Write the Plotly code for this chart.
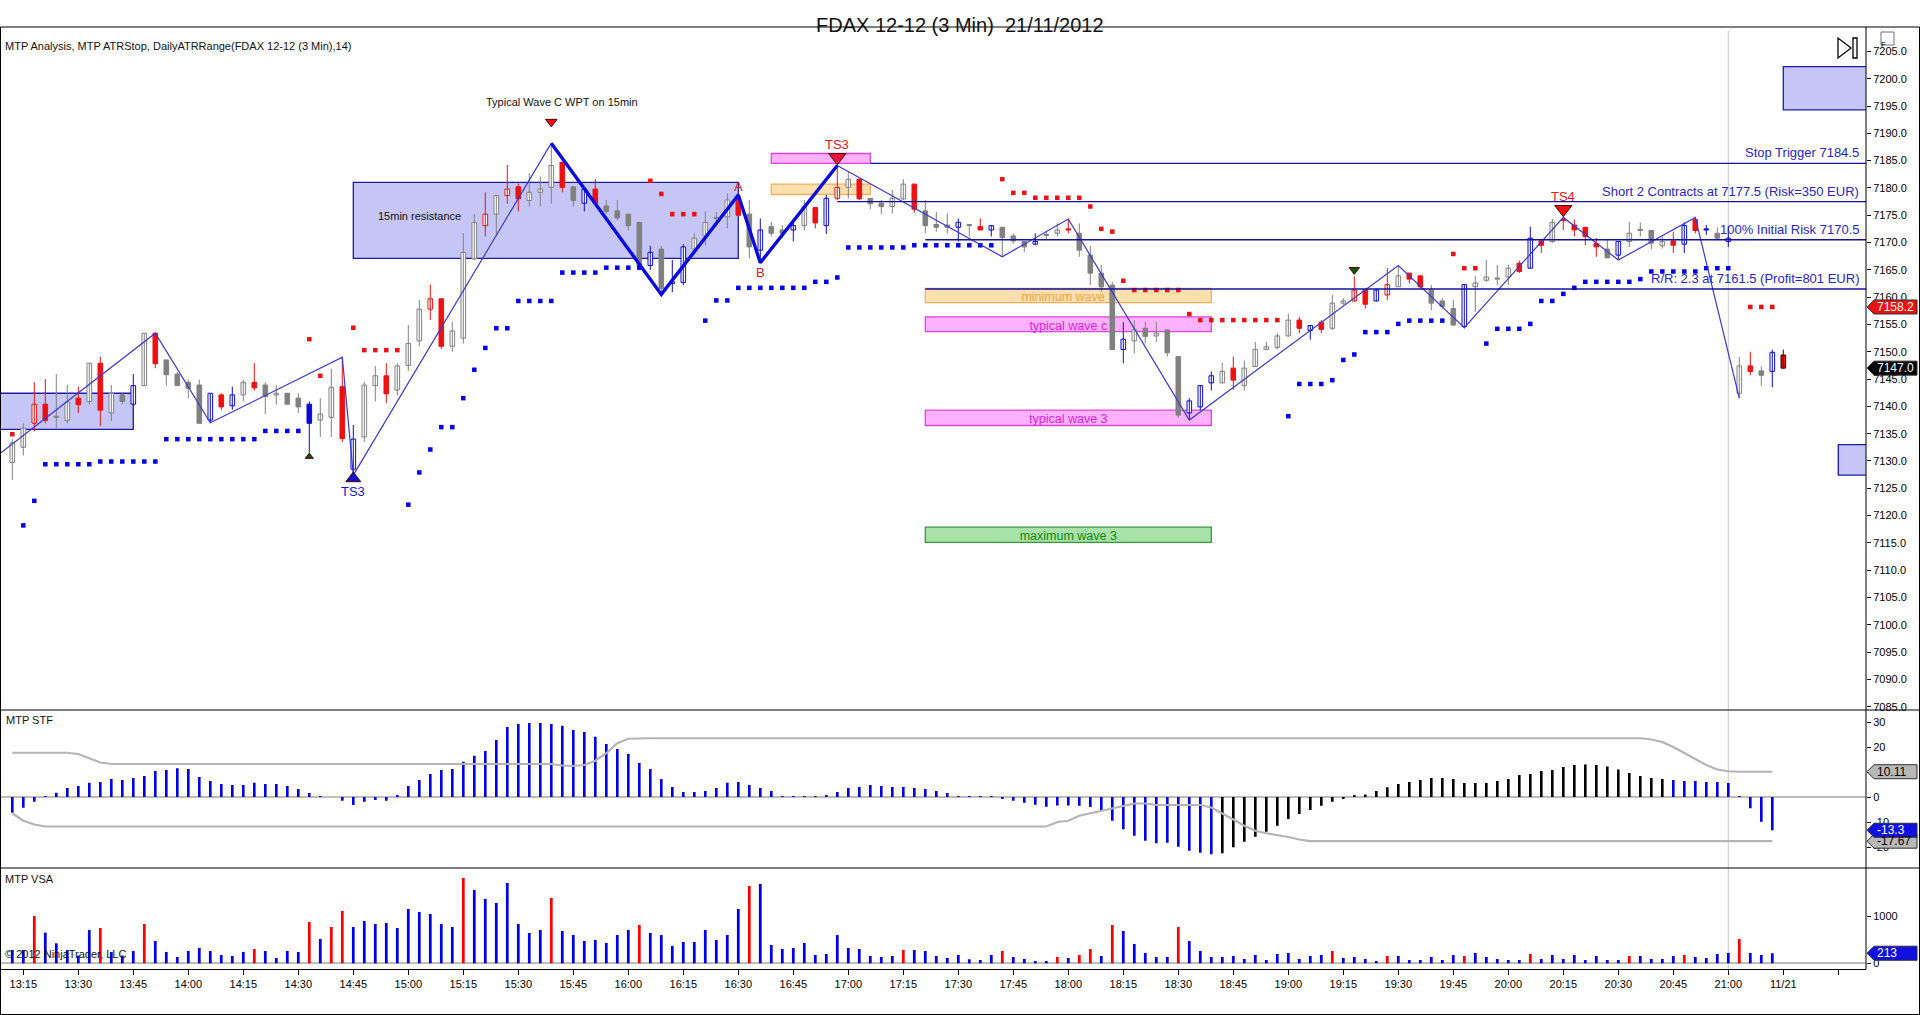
import plotly.graph_objects as go
from plotly.subplots import make_subplots

W, H = 1920, 1015
AXIS_X = 1866          # pixel column of the right-hand price axis
FONT = "Liberation Sans, Arial, sans-serif"

# ---------------- FDAX 12-12, 3 min bars, bar 0 closes at 13:15 ----------------
FIRST_BAR = -1
OPEN = [
    7129.7, 7132.5, 7136.9, 7140.4, 7138.0, 7137.4, 7141.5, 7140.9, 7147.9, 7138.8,
    7142.1, 7140.4, 7143.8, 7153.4, 7148.5, 7145.9, 7144.4, 7143.9, 7137.5, 7142.1,
    7140.1, 7142.1, 7144.4, 7143.9, 7142.1, 7142.4, 7141.5, 7140.4, 7137.5, 7138.0,
    7143.6, 7128.5, 7134.4, 7143.8, 7145.6, 7143.0, 7147.5, 7152.0, 7157.8, 7159.7,
    7151.0, 7152.5, 7167.0, 7173.1, 7175.2, 7178.6, 7180.2, 7177.7, 7179.2, 7180.1,
    7184.7, 7180.2, 7177.2, 7179.8, 7176.7, 7175.8, 7175.2, 7173.7, 7165.8, 7168.8,
    7162.5, 7162.7, 7168.8, 7171.2, 7174.4, 7174.7, 7177.8, 7175.2, 7168.6, 7172.9,
    7172.3, 7172.3, 7173.1, 7176.4, 7173.1, 7178.1, 7180.1, 7181.6, 7178.1, 7177.2,
    7176.6, 7178.0, 7180.7, 7175.8, 7173.3, 7173.2, 7172.8, 7173.1, 7172.9, 7172.3,
    7172.8, 7171.2, 7170.2, 7169.7, 7171.3, 7171.7, 7172.3, 7171.7, 7167.7, 7164.4,
    7162.2, 7150.4, 7152.0, 7154.3, 7152.9, 7154.0, 7149.1, 7138.8, 7139.9, 7144.3,
    7144.3, 7147.0, 7143.8, 7147.3, 7150.4, 7150.8, 7152.9, 7155.8, 7153.9, 7155.4,
    7154.3, 7158.9, 7159.3, 7161.3, 7159.3, 7160.4, 7161.9, 7164.4, 7163.9, 7161.3,
    7159.3, 7157.9, 7154.6, 7161.9, 7163.1, 7163.3, 7163.7, 7166.2, 7165.3, 7170.3,
    7170.2, 7174.0, 7173.2, 7172.8, 7169.8, 7168.8, 7167.7, 7170.2, 7172.2, 7172.2,
    7169.4, 7170.3, 7169.7, 7174.2, 7172.3, 7171.7, 7170.2, 7142.4, 7147.4, 7146.5,
    7146.4, 7149.4,
]
HIGH = [
    7134.0, 7136.9, 7144.4, 7145.0, 7145.9, 7143.9, 7143.6, 7147.9, 7149.1, 7143.9,
    7142.4, 7145.9, 7153.4, 7153.4, 7148.5, 7146.3, 7144.9, 7144.9, 7142.4, 7142.4,
    7143.6, 7144.9, 7147.9, 7144.4, 7143.9, 7142.4, 7142.4, 7140.9, 7141.5, 7146.9,
    7149.0, 7136.6, 7144.5, 7147.4, 7147.9, 7147.9, 7154.9, 7159.5, 7162.3, 7159.7,
    7155.5, 7171.7, 7175.2, 7179.2, 7178.6, 7184.2, 7180.8, 7182.7, 7182.1, 7188.2,
    7184.7, 7180.2, 7179.8, 7181.6, 7177.8, 7177.8, 7175.2, 7173.7, 7169.4, 7169.4,
    7166.8, 7169.7, 7171.7, 7175.7, 7175.6, 7179.0, 7178.7, 7177.8, 7174.4, 7173.8,
    7173.2, 7174.4, 7177.8, 7176.4, 7178.7, 7184.1, 7183.0, 7181.6, 7178.1, 7177.8,
    7179.6, 7181.6, 7180.7, 7177.8, 7175.6, 7175.3, 7174.4, 7173.1, 7174.4, 7173.1,
    7172.8, 7171.7, 7170.2, 7171.7, 7172.0, 7173.5, 7174.3, 7173.5, 7169.4, 7165.9,
    7162.8, 7155.4, 7155.8, 7155.5, 7155.5, 7154.0, 7149.1, 7141.5, 7143.8, 7146.4,
    7148.0, 7149.1, 7148.4, 7151.8, 7151.8, 7153.4, 7157.0, 7156.4, 7154.9, 7155.8,
    7160.4, 7159.8, 7163.8, 7161.3, 7161.6, 7165.3, 7165.7, 7164.4, 7163.9, 7162.2,
    7159.8, 7159.5, 7162.3, 7163.9, 7166.8, 7165.9, 7165.9, 7166.7, 7172.9, 7170.3,
    7174.3, 7174.7, 7174.2, 7172.8, 7170.8, 7170.6, 7170.2, 7173.8, 7173.7, 7172.2,
    7171.1, 7172.0, 7173.7, 7174.6, 7173.2, 7172.8, 7173.0, 7149.1, 7150.0, 7147.3,
    7150.4, 7150.4,
]
LOW = [
    7126.5, 7131.0, 7135.4, 7136.9, 7136.0, 7136.9, 7138.8, 7140.4, 7136.4, 7137.3,
    7140.4, 7140.4, 7143.8, 7147.0, 7143.8, 7143.8, 7141.5, 7136.9, 7137.0, 7139.4,
    7139.4, 7140.9, 7142.9, 7138.6, 7140.3, 7140.4, 7138.8, 7131.5, 7134.4, 7134.4,
    7133.5, 7127.4, 7133.5, 7140.9, 7140.6, 7142.0, 7146.5, 7151.0, 7155.8, 7150.5,
    7150.0, 7151.5, 7166.8, 7171.1, 7171.4, 7177.1, 7175.7, 7176.6, 7176.6, 7177.1,
    7179.2, 7176.6, 7175.7, 7177.1, 7175.3, 7174.1, 7172.2, 7165.6, 7165.0, 7160.5,
    7160.9, 7162.2, 7168.6, 7169.5, 7172.9, 7172.6, 7175.0, 7167.1, 7166.3, 7171.1,
    7170.8, 7170.2, 7172.2, 7172.6, 7171.6, 7177.8, 7178.1, 7177.8, 7176.1, 7175.2,
    7175.3, 7177.8, 7175.5, 7171.7, 7172.0, 7171.7, 7170.2, 7171.1, 7172.3, 7171.1,
    7167.4, 7169.8, 7168.3, 7169.5, 7170.5, 7171.1, 7171.7, 7167.4, 7162.2, 7161.0,
    7150.4, 7147.9, 7149.7, 7151.5, 7151.8, 7149.1, 7137.8, 7137.5, 7139.3, 7142.9,
    7144.2, 7143.0, 7142.9, 7147.3, 7150.3, 7150.4, 7152.8, 7153.4, 7152.2, 7153.4,
    7154.0, 7158.6, 7159.2, 7157.9, 7159.2, 7159.5, 7161.9, 7162.5, 7161.6, 7157.6,
    7157.9, 7154.7, 7154.3, 7157.3, 7162.8, 7162.2, 7162.2, 7164.4, 7165.3, 7168.1,
    7169.9, 7172.3, 7171.1, 7169.5, 7167.4, 7167.2, 7166.8, 7169.2, 7171.1, 7168.8,
    7168.9, 7168.1, 7168.1, 7171.7, 7171.4, 7170.5, 7169.2, 7141.5, 7145.7, 7143.7,
    7143.5, 7146.9,
]
CLOSE = [
    7133.3, 7136.0, 7140.4, 7137.4, 7138.0, 7140.8, 7140.3, 7147.9, 7139.3, 7142.4,
    7140.9, 7143.8, 7153.4, 7147.8, 7145.8, 7143.8, 7143.3, 7136.9, 7142.4, 7139.9,
    7142.1, 7144.4, 7143.4, 7141.8, 7142.4, 7140.4, 7139.9, 7136.9, 7138.6, 7143.5,
    7134.1, 7134.0, 7143.9, 7145.6, 7142.3, 7147.4, 7151.5, 7157.8, 7159.7, 7151.0,
    7153.8, 7168.2, 7173.7, 7175.2, 7178.6, 7179.8, 7178.0, 7179.2, 7179.8, 7184.1,
    7180.1, 7177.7, 7179.8, 7177.2, 7175.7, 7174.5, 7173.1, 7165.6, 7168.2, 7161.6,
    7162.8, 7169.2, 7170.8, 7173.7, 7174.4, 7177.8, 7175.0, 7169.2, 7172.3, 7171.7,
    7171.7, 7173.1, 7176.6, 7173.6, 7178.1, 7180.1, 7181.6, 7178.0, 7177.1, 7176.6,
    7178.1, 7180.7, 7176.1, 7173.1, 7172.8, 7172.8, 7173.7, 7173.1, 7172.3, 7173.1,
    7170.9, 7170.3, 7169.2, 7170.2, 7171.3, 7172.3, 7172.3, 7168.6, 7164.4, 7161.9,
    7150.4, 7152.3, 7154.0, 7152.8, 7153.4, 7149.8, 7138.4, 7141.0, 7143.8, 7145.6,
    7146.4, 7144.8, 7147.0, 7150.4, 7150.9, 7152.9, 7155.8, 7154.3, 7154.8, 7154.1,
    7158.9, 7159.3, 7161.3, 7158.7, 7161.3, 7162.3, 7163.9, 7163.3, 7161.9, 7158.9,
    7158.3, 7154.9, 7162.3, 7162.6, 7163.7, 7163.3, 7165.3, 7164.7, 7170.8, 7169.5,
    7173.7, 7174.0, 7172.3, 7171.1, 7169.2, 7167.2, 7170.2, 7171.7, 7172.2, 7169.9,
    7170.2, 7169.5, 7173.1, 7172.2, 7172.3, 7170.8, 7170.8, 7147.4, 7146.4, 7145.7,
    7149.9, 7147.0,
]
# MTP Analysis bar colouring: g gray, r red, b blue, d red with dark edge (bar in progress)
TONE = list(
    "ggrrggrgrg" "gbgrggggbr" "bgrggggbgg" "rbggrgggrr" "gggrgrrggg" "rgbrggggbg"
    "bbggggrgbg" "gbgrbrgrgg" "ggrgggbgrb" "gggbggrggg" "gbgggggbbb" "grgggggrbr"
    "ggrrbrgrrg" "ggbggggrbr" "grrrrgbggg" "grbrbgbgrg" "bd"
)
BARS = list(range(FIRST_BAR, FIRST_BAR + len(OPEN)))

# MTP ATRStop: runs of (first bar, last bar, stop level)
STOP_BLUE_RUNS = [
    (0, 0, 7118.2), (1, 1, 7122.7), (2, 6, 7129.4), (7, 12, 7129.9), (13, 21, 7134.0),
    (22, 25, 7135.5), (35, 35, 7122.0), (36, 36, 7127.9), (37, 37, 7132.1), (38, 39, 7136.2),
    (40, 40, 7141.5), (41, 41, 7146.7), (42, 42, 7150.7), (43, 44, 7154.3), (45, 48, 7159.3),
    (49, 52, 7164.5), (53, 56, 7165.4), (62, 62, 7155.7), (63, 64, 7159.4), (65, 71, 7161.7),
    (72, 73, 7162.8), (74, 74, 7163.6), (75, 80, 7169.1), (81, 88, 7169.5), (115, 115, 7138.2),
    (116, 118, 7144.1), (119, 119, 7144.8), (120, 120, 7148.5), (121, 121, 7149.5),
    (122, 124, 7153.6), (125, 125, 7155.1), (126, 129, 7155.7), (133, 133, 7151.5),
    (134, 136, 7154.2), (137, 137, 7155.1), (138, 139, 7159.3), (140, 140, 7160.6),
    (141, 141, 7161.7), (142, 146, 7162.8), (147, 147, 7163.3), (148, 152, 7164.7),
    (153, 155, 7165.3),
]
STOP_RED_RUNS = [
    (-1, -1, 7134.9), (26, 26, 7152.3), (27, 27, 7145.6), (30, 30, 7154.4), (31, 34, 7150.3),
    (57, 57, 7181.3), (58, 58, 7178.9), (59, 61, 7175.2), (89, 89, 7181.6), (90, 91, 7179.1),
    (92, 96, 7178.2), (97, 97, 7176.6), (98, 98, 7172.5), (99, 99, 7172.0), (100, 100, 7163.0),
    (101, 105, 7161.3), (106, 106, 7156.9), (107, 114, 7155.8), (130, 130, 7167.9),
    (131, 132, 7165.3), (157, 159, 7158.2),
]

# swing lines
ZIG_BARS = [-3, 12, 17, 29, 30, 48]
ZIG_PRICES = [7130.0, 7153.4, 7137.0, 7149.0, 7127.4, 7188.2]
WAVE_BARS = [48, 58, 65, 67, 74]
WAVE_PRICES = [7188.2, 7160.5, 7178.7, 7166.3, 7184.1]
ZIG2_BARS = [74, 89, 95, 106, 125, 131, 140, 145, 152, 156]
ZIG2_PRICES = [7184.1, 7167.4, 7174.3, 7137.5, 7165.8, 7154.4, 7174.6, 7166.8, 7174.6, 7141.5]

# trade levels
LEVELS = [7184.5, 7177.5, 7170.5, 7161.5]
LEVEL_FROM = [77, 74, 82, 82]
LEVEL_TEXT = [
    "Stop Trigger 7184.5",
    "Short 2 Contracts at 7177.5 (Risk=350 EUR)",
    "100% Initial Risk 7170.5",
    "R/R: 2.3 at 7161.5 (Profit=801 EUR)",
]

# zones: bar span, price span, caption, kind
ZONE_FROM = [-3, 30, 68, 68, 82, 82, 82, 82, 160, 165]
ZONE_TO = [10, 65, 77, 77, 108, 108, 108, 108, 168, 168]
ZONE_LOW = [7135.8, 7167.1, 7184.5, 7178.8, 7159.0, 7153.7, 7136.5, 7115.1, 7194.3, 7127.4]
ZONE_HIGH = [7142.4, 7181.0, 7186.3, 7180.7, 7161.6, 7156.4, 7139.3, 7117.9, 7202.2, 7133.0]
ZONE_TEXT = ["", "", "", "", "minimum wave 3", "typical wave c", "typical wave 3",
             "maximum wave 3", "", ""]
ZONE_KIND = ["blue", "blue", "pink", "orange", "orange", "pink", "pink", "green", "blue", "blue"]

# MTP STF oscillator, bars -1 .. 159
STF = [
    -6.3, -4.3, -1.9, 0.3, 1.7, 3.6, 4.4, 5.7, 6.0, 7.2,
    6.8, 7.6, 8.4, 10.4, 10.8, 11.5, 11.2, 8.0, 6.4, 5.2,
    4.8, 4.8, 5.7, 5.2, 5.2, 4.4, 3.2, 1.6, 0.2, 0.0,
    -1.5, -3.2, -1.9, -1.2, -1.5, 0.8, 4.4, 6.8, 9.2, 10.8,
    11.2, 14.1, 16.5, 18.4, 22.8, 28.0, 29.2, 29.6, 29.6, 29.2,
    28.5, 26.8, 26.0, 24.1, 21.2, 19.2, 17.2, 13.6, 11.2, 7.2,
    4.0, 2.0, 2.0, 2.4, 3.6, 5.7, 6.0, 4.8, 3.6, 2.4,
    0.3, 0.3, 0.3, 0.1, 0.8, 2.0, 3.6, 4.0, 4.8, 4.4,
    4.0, 4.0, 3.6, 3.2, 2.4, 1.6, 0.4, 0.1, 0.1, 0.1,
    -0.5, -1.5, -2.3, -3.1, -3.9, -3.4, -3.4, -3.5, -4.0, -5.5,
    -9.5, -12.9, -15.5, -17.5, -18.5, -18.3, -19.9, -21.5, -22.3, -22.9,
    -22.5, -20.1, -17.9, -15.9, -13.9, -11.5, -8.8, -6.8, -5.2, -3.5,
    -1.9, -0.5, 0.5, 1.0, 2.4, 3.9, 5.2, 6.0, 6.8, 7.6,
    7.6, 7.2, 5.6, 5.6, 5.6, 6.4, 7.2, 8.8, 9.2, 10.4,
    10.8, 12.0, 12.8, 13.0, 12.8, 12.2, 11.0, 9.6, 8.4, 7.6,
    7.2, 6.8, 6.4, 6.4, 6.0, 6.0, 5.6, 0.4, -4.5, -9.9,
    -13.3,
]
STF_TONE = "b" * 110 + "k" * 41 + "b" * 10
STF_UPPER = ([17.7] * 6 + [17.2, 15.5, 13.8] + [13.2] * 41
             + [12.6, 12.4, 12.8, 14.5, 17.5, 21.5, 23.3] + [23.5] * 92
             + [23.0, 22.0, 20.0, 17.5, 15.0, 12.8, 11.0, 10.3] + [10.11] * 4)
STF_LOWER = ([-6.5, -9.5, -11.0] + [-11.8] * 92
             + [-10.0, -9.5, -7.5, -6.5, -5.8, -4.5, -3.5, -2.6, -2.6] + [-3.2] * 5
             + [-4.2, -6.5, -9.0, -11.5, -13.5, -14.5, -15.2, -16.0, -17.0] + [-17.67] * 43)
STF_TICKS = [-20, -10, 0, 10, 20, 30]
STF_TICK_TEXT = ["-20", "-10", "0", "", "20", "30"]   # the 10 sits under the 10.11 flag

# MTP VSA volume, bars -1 .. 159
VSA = [
    282, 282, 1001, 649, 423, 282, 162, 705, 747, 240,
    162, 261, 832, 472, 240, 134, 261, 324, 261, 176,
    155, 240, 303, 261, 113, 261, 240, 874, 515, 768,
    1107, 768, 895, 832, 853, 747, 1149, 1086, 1043, 832,
    768, 1805, 1551, 1361, 1276, 1699, 832, 642, 705, 1382,
    684, 599, 472, 494, 430, 599, 705, 811, 642, 599,
    367, 451, 451, 705, 494, 599, 1149, 1636, 1678, 388,
    303, 324, 430, 176, 197, 599, 324, 303, 155, 134,
    155, 282, 282, 261, 155, 113, 176, 85, 70, 176,
    261, 134, 92, 49, 49, 134, 113, 176, 303, 155,
    811, 684, 409, 219, 134, 134, 768, 472, 261, 134,
    134, 155, 92, 176, 70, 197, 219, 92, 155, 176,
    261, 113, 134, 92, 49, 155, 155, 70, 70, 134,
    70, 176, 155, 219, 134, 92, 70, 70, 197, 92,
    176, 92, 176, 70, 155, 70, 70, 155, 155, 92,
    92, 155, 176, 134, 113, 197, 219, 515, 219, 176,
    213,
]
VSA_TONE = ("bbrbbbbbrb" "bbrbbbbbbb" "bbrbbbbrbr" "rbbbbbbbbb" "brbbbbbbbr" "bbbbbbbrbb"
            "bbbbbbbrbb" "bbbbbbbbbb" "brbbbbbbbb" "rbbbbrbrrb" "rbbbbbrbbb" "bbbbbbbbbb"
            "rbbbbrbbbb" "bbrbbbbbrb" "bbbbbbbrbb" "bbrbbbbrbb" "b")

TIME_TICKS = ["13:15", "13:30", "13:45", "14:00", "14:15", "14:30", "14:45", "15:00",
              "15:15", "15:30", "15:45", "16:00", "16:15", "16:30", "16:45", "17:00",
              "17:15", "17:30", "17:45", "18:00", "18:15", "18:30", "18:45", "19:00",
              "19:15", "19:30", "19:45", "20:00", "20:15", "20:30", "20:45", "21:00",
              "11/21", ""]

# ---------------- geometry (pixel layout of the NinjaTrader window) ----------------
BAR_PX = 11.0
X0_PX = 23.3
X_MIN = -X0_PX / BAR_PX
X_MAX = (AXIS_X - X0_PX) / BAR_PX
PRICE_PX = 5.461      # pixels per index point


def px(x):
    return x / W


def py(y):
    return 1 - y / H


BLUE = "#0000ee"
RED = "#ee1111"
GRAY = "#808080"

fig = make_subplots(rows=3, cols=1, shared_xaxes=True, vertical_spacing=0)

# zones go under the bars
zone_style = {
    "blue": ("#c6c6f6", "#1c1ca8", "#1c1ca8"),
    "pink": ("#ffb2ff", "#dd44dd", "#dd22dd"),
    "orange": ("#ffdfae", "#f0b060", "#eea540"),
    "green": ("#a8e2a8", "#3a9a3a", "#118811"),
}
for a, b, lo, hi, txt, kind in zip(ZONE_FROM, ZONE_TO, ZONE_LOW, ZONE_HIGH, ZONE_TEXT, ZONE_KIND):
    fill, edge, tcol = zone_style[kind]
    shp = dict(type="rect", xref="x", yref="y", x0=a, x1=b, y0=lo, y1=hi,
               fillcolor=fill, line=dict(color=edge, width=1.3), layer="below")
    if txt:
        shp["label"] = dict(text=txt, textposition="middle center",
                            font=dict(size=12.5, color=tcol, family=FONT))
    fig.add_shape(**shp)

# 21:00 session marker
fig.add_shape(type="line", xref="x", yref="paper", x0=155, x1=155, y0=py(969), y1=py(31),
              line=dict(color="#c8c8c8", width=1), layer="below")

# candles: wicks then bodies, one group per colour
tone_style = {"g": (GRAY, GRAY), "r": (RED, RED), "b": ("#0a0ad4", "#0a0ad4"), "d": (RED, "#3a0000")}
for tone, (fill, edge) in tone_style.items():
    idx = [i for i, t in enumerate(TONE) if t == tone]
    wx, wy = [], []
    for i in idx:
        wx += [BARS[i], BARS[i], None]
        wy += [LOW[i], HIGH[i], None]
    fig.add_trace(go.Scatter(x=wx, y=wy, mode="lines", line=dict(color=edge, width=1),
                             hoverinfo="skip"), row=1, col=1)
    for hollow in (True, False):
        sel = [i for i in idx if (CLOSE[i] > OPEN[i]) == hollow]
        if not sel:
            continue
        fig.add_trace(go.Bar(
            x=[BARS[i] for i in sel],
            y=[max(abs(CLOSE[i] - OPEN[i]), 0.2) for i in sel],
            base=[min(OPEN[i], CLOSE[i]) for i in sel],
            width=0.42,
            marker=dict(color="white" if hollow else fill, line=dict(color=edge, width=1)),
            hoverinfo="skip"), row=1, col=1)


def run_points(runs):
    xs, ys = [], []
    for a, b, v in runs:
        for n in range(a, b + 1):
            xs.append(n)
            ys.append(v)
    return xs, ys


for runs, col in ((STOP_BLUE_RUNS, BLUE), (STOP_RED_RUNS, RED)):
    sx, sy = run_points(runs)
    fig.add_trace(go.Scatter(x=sx, y=sy, mode="markers",
                             marker=dict(symbol="square", size=4.5, color=col, line=dict(width=0)),
                             hoverinfo="skip"), row=1, col=1)

# swing lines
for xs, ys, wdt, col in ((ZIG_BARS, ZIG_PRICES, 1.2, "#3a3ad0"),
                         (ZIG2_BARS, ZIG2_PRICES, 1.2, "#3a3ad0"),
                         (WAVE_BARS, WAVE_PRICES, 3.4, "#0a0ae0")):
    fig.add_trace(go.Scatter(x=xs, y=ys, mode="lines", line=dict(color=col, width=wdt),
                             hoverinfo="skip"), row=1, col=1)

# trade levels
for lvl, start, txt in zip(LEVELS, LEVEL_FROM, LEVEL_TEXT):
    fig.add_trace(go.Scatter(x=[start, X_MAX], y=[lvl, lvl], mode="lines",
                             line=dict(color="#12129a", width=1.4), hoverinfo="skip"), row=1, col=1)
    fig.add_annotation(xref="paper", yref="y", x=px(AXIS_X - 5), y=lvl, text=txt,
                       showarrow=False, xanchor="right", yanchor="bottom", yshift=1,
                       font=dict(size=13, color="#2626c4", family=FONT))

# signal markers
MARK_BARS = [48, 74, 140, 30, 121, 26]
MARK_PRICES = [7192.1, 7185.6, 7176.1, 7126.8, 7165.0, 7130.8]
MARK_SYMBOL = ["triangle-down", "triangle-down", "triangle-down", "triangle-up", "triangle-down", "triangle-up"]
MARK_SIZE = [10, 15, 15, 13, 9, 7]
MARK_FILL = [RED, "#e8163c", RED, "#1010d0", "#0a5a0a", "#0a5a0a"]
for n, p, s, z, c in zip(MARK_BARS, MARK_PRICES, MARK_SYMBOL, MARK_SIZE, MARK_FILL):
    fig.add_trace(go.Scatter(x=[n], y=[p], mode="markers",
                             marker=dict(symbol=s, size=z, color=c, line=dict(color="#500000", width=1)),
                             hoverinfo="skip"), row=1, col=1)

LABEL_BARS = [74, 65, 67, 140, 30]
LABEL_PRICES = [7188.0, 7180.3, 7164.6, 7178.4, 7124.5]
LABEL_TEXT = ["TS3", "A", "B", "TS4", "TS3"]
LABEL_COL = ["#e01818", "#e01818", "#e01818", "#e01818", "#1818c8"]
for n, p, t, c in zip(LABEL_BARS, LABEL_PRICES, LABEL_TEXT, LABEL_COL):
    fig.add_annotation(x=n, y=p, xref="x", yref="y", text=t, showarrow=False,
                       font=dict(size=13, color=c, family=FONT))

fig.add_annotation(x=49, y=7195.7, xref="x", yref="y", text="Typical Wave C WPT on 15min",
                   showarrow=False, font=dict(size=11, color="#111111", family=FONT))
fig.add_annotation(x=36, y=7174.8, xref="x", yref="y", text="15min resistance",
                   showarrow=False, font=dict(size=11, color="#111111", family=FONT))

# ---------------- MTP STF ----------------
IND_BARS = BARS[:len(STF)]
fig.add_trace(go.Bar(x=IND_BARS, y=STF, width=0.24,
                     marker=dict(color=[BLUE if t == "b" else "#000000" for t in STF_TONE], line=dict(width=0)),
                     hoverinfo="skip"), row=2, col=1)
for band in (STF_UPPER, STF_LOWER):
    fig.add_trace(go.Scatter(x=IND_BARS, y=band, mode="lines", line=dict(color="#b4b4b4", width=2.2),
                             hoverinfo="skip"), row=2, col=1)

# ---------------- MTP VSA ----------------
fig.add_trace(go.Bar(x=IND_BARS, y=VSA, width=0.25,
                     marker=dict(color=[BLUE if t == "b" else "#ff0000" for t in VSA_TONE], line=dict(width=0)),
                     hoverinfo="skip"), row=3, col=1)

# ---------------- axes ----------------
tick_font = dict(size=11, color="#000000", family=FONT)
fig.update_xaxes(range=[X_MIN, X_MAX], domain=[0, px(AXIS_X)], showgrid=False, zeroline=False,
                 showticklabels=False, ticks="", showline=False, automargin=False)
fig.update_xaxes(row=3, col=1, showticklabels=True, ticks="outside", ticklen=5, tickcolor="#000000",
                 tickvals=list(range(0, 5 * len(TIME_TICKS), 5)), ticktext=TIME_TICKS, tickfont=tick_font,
                 showline=True, linecolor="#000000", linewidth=1)

price_ticks = list(range(7085, 7206, 5))
fig.update_yaxes(side="right", showgrid=False, automargin=False, ticks="outside", ticklen=4,
                 tickcolor="#000000", tickfont=tick_font, showline=False)
fig.update_yaxes(row=1, col=1, range=[7205 - 658.6 / PRICE_PX, 7205 + 24.4 / PRICE_PX],
                 tickvals=price_ticks, ticktext=[f"{v:.1f}" for v in price_ticks], zeroline=False)
fig.update_yaxes(row=2, col=1, range=[-28.4, 34.8], tickvals=STF_TICKS, ticktext=STF_TICK_TEXT,
                 zeroline=True, zerolinecolor="#bdbdbd", zerolinewidth=1.5)
fig.update_yaxes(row=3, col=1, range=[-120.5, 2014.8], tickvals=[0, 1000],
                 zeroline=True, zerolinecolor="#bdbdbd", zerolinewidth=1.5)
fig.update_layout(yaxis=dict(domain=[py(710), py(27)]),
                  yaxis2=dict(domain=[py(868), py(710)]),
                  yaxis3=dict(domain=[py(969), py(868)]))

# ---------------- window furniture ----------------
frame = dict(color="#000000", width=1)
fig.add_shape(type="rect", xref="paper", yref="paper", x0=px(0.5), x1=px(1919.5), y0=py(1014.5), y1=py(27),
              line=frame)
for yy in (710, 868):
    fig.add_shape(type="line", xref="paper", yref="paper", x0=0, x1=1, y0=py(yy), y1=py(yy), line=frame)
fig.add_shape(type="line", xref="paper", yref="paper", x0=px(AXIS_X), x1=px(AXIS_X), y0=py(969), y1=py(27),
              line=frame)
# play button and F box
fig.add_shape(type="path", xref="paper", yref="paper",
              path=f"M {px(1838)},{py(38)} L {px(1838)},{py(58)} L {px(1851)},{py(48)} Z",
              line=dict(color="#000000", width=1.3))
fig.add_shape(type="rect", xref="paper", yref="paper", x0=px(1853), x1=px(1857), y0=py(58), y1=py(38),
              line=dict(color="#000000", width=1.3))
fig.add_shape(type="rect", xref="paper", yref="paper", x0=px(1881), x1=px(1894), y0=py(45), y1=py(32),
              line=dict(color="#707070", width=1))
fig.add_annotation(xref="paper", yref="paper", x=px(1887.5), y=py(38.5), text="F", showarrow=False,
                   font=dict(size=8, color="#000000", family=FONT))


def flag(yref, value, text, fill, color, unit_per_px):
    h = 7 * unit_per_px
    x0, x1, x2 = px(AXIS_X + 1), px(AXIS_X + 8), px(1917)
    fig.add_shape(type="path", xref="paper", yref=yref,
                  path=f"M {x0},{value} L {x1},{value + h} L {x2},{value + h} L {x2},{value - h} "
                       f"L {x1},{value - h} Z",
                  fillcolor=fill, line=dict(color="#303030", width=1))
    fig.add_annotation(xref="paper", yref=yref, x=px(AXIS_X + 9), y=value, text=text, showarrow=False,
                       xanchor="left", font=dict(size=12, color=color, family=FONT))


flag("y", 7158.2, "7158.2", "#ee1111", "#ffffff", 1 / PRICE_PX)
flag("y", CLOSE[-1], f"{CLOSE[-1]:.1f}", "#000000", "#ffffff", 1 / PRICE_PX)
flag("y2", STF_UPPER[-1], f"{STF_UPPER[-1]:.2f}", "#b8b8b8", "#000000", 0.4)
flag("y2", STF_LOWER[-1], f"{STF_LOWER[-1]:.2f}", "#b8b8b8", "#000000", 0.4)
flag("y2", STF[-1], f"{STF[-1]:.1f}", "#1010e0", "#ffffff", 0.4)
flag("y3", VSA[-1], f"{VSA[-1]}", "#1010e0", "#ffffff", 21.14)

texts = [
    (px(960), py(12), "FDAX 12-12 (3 Min)\u00a0\u00a021/11/2012", 20, "center"),
    (px(3), py(38), "MTP Analysis, MTP ATRStop, DailyATRRange(FDAX 12-12 (3 Min),14)", 11, "left"),
    (px(4), py(728), "MTP STF", 11, "left"),
    (px(3), py(887), "MTP VSA", 11, "left"),
    (px(3), py(962), "\u00a9 2012 NinjaTrader, LLC", 11, "left"),
]
for x, y, t, s, anchor in texts:
    fig.add_annotation(xref="paper", yref="paper", x=x, y=y, text=t, showarrow=False, xanchor=anchor,
                       font=dict(size=s, color="#111111", family=FONT))

fig.update_layout(width=W, height=H, autosize=False, margin=dict(l=0, r=0, t=0, b=0, pad=0),
                  paper_bgcolor="#ffffff", plot_bgcolor="rgba(0,0,0,0)", showlegend=False,
                  barmode="overlay", font=dict(family=FONT))

fig.write_html("out.html", config={"displayModeBar": False},
               post_script="document.body.style.margin='0';document.body.style.overflow='hidden';")
